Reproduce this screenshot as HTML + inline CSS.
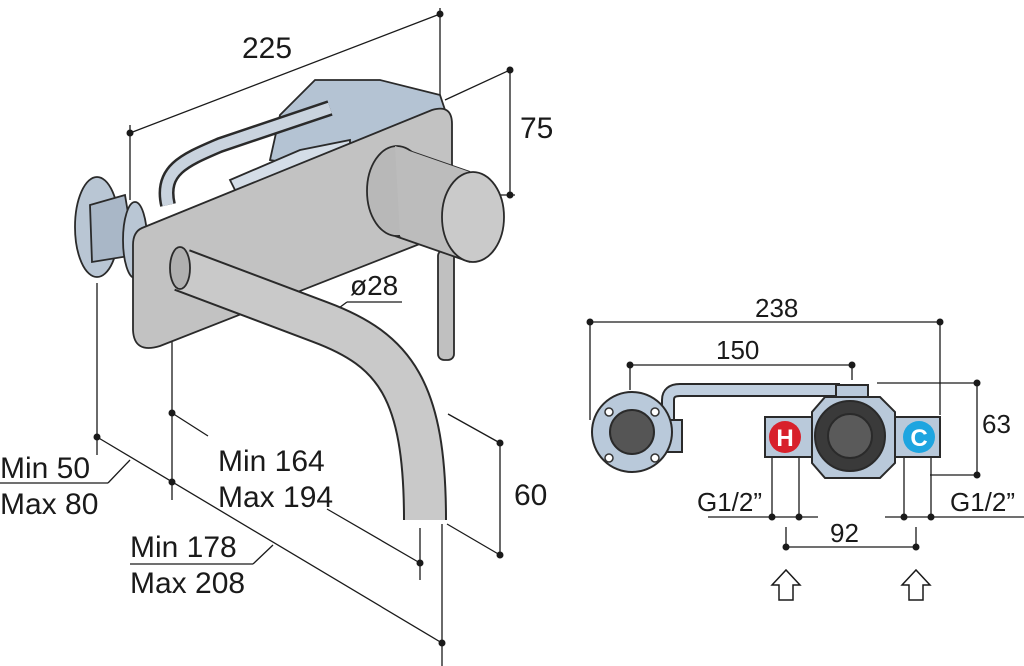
<!DOCTYPE html><html><head><style>body{margin:0;background:#fff}svg{display:block}text{font-family:"Liberation Sans",sans-serif;fill:#1a1a1a}</style></head><body>
<svg width="1024" height="666" viewBox="0 0 1024 666" xmlns="http://www.w3.org/2000/svg">
<g stroke="#1a1a1a" stroke-width="1.3" fill="none">
<line x1="130" y1="133" x2="440" y2="14"/><line x1="130" y1="125" x2="130" y2="200"/><line x1="440" y1="8" x2="440" y2="95"/>
<line x1="445" y1="100" x2="510" y2="70"/><line x1="510" y1="70" x2="510" y2="195"/><line x1="470" y1="195" x2="515" y2="195"/>
<line x1="320" y1="322" x2="347" y2="302"/><line x1="347" y1="302" x2="402" y2="302"/>
<line x1="97" y1="283" x2="97" y2="455"/><line x1="172" y1="340" x2="172" y2="500"/>
<line x1="97" y1="437" x2="442" y2="643"/><line x1="172" y1="413" x2="208" y2="436"/>
<line x1="327" y1="509" x2="420" y2="563"/><line x1="420" y1="528" x2="420" y2="580"/><line x1="442" y1="524" x2="442" y2="666"/>
<line x1="0" y1="483" x2="108" y2="483"/><line x1="108" y1="483" x2="130" y2="460"/>
<line x1="130" y1="564" x2="253" y2="564"/><line x1="253" y1="564" x2="273" y2="545"/>
<line x1="448" y1="414" x2="500" y2="443"/><line x1="500" y1="443" x2="500" y2="555"/><line x1="447" y1="524" x2="500" y2="555"/>
<line x1="590" y1="322" x2="940" y2="322"/><line x1="590" y1="322" x2="590" y2="420"/><line x1="940" y1="322" x2="940" y2="415"/>
<line x1="630" y1="365" x2="852" y2="365"/><line x1="630" y1="365" x2="630" y2="390"/><line x1="852" y1="365" x2="852" y2="380"/>
<line x1="877" y1="383" x2="980" y2="383"/><line x1="977" y1="383" x2="977" y2="475"/><line x1="930" y1="475" x2="980" y2="475"/>
<line x1="772" y1="457" x2="772" y2="517"/><line x1="799" y1="457" x2="799" y2="517"/><line x1="904" y1="457" x2="904" y2="517"/><line x1="931" y1="457" x2="931" y2="517"/>
<line x1="708" y1="517" x2="818" y2="517"/><line x1="885" y1="517" x2="1024" y2="517"/>
<line x1="786" y1="527" x2="786" y2="547"/><line x1="916" y1="527" x2="916" y2="547"/>
</g>
<g fill="#1a1a1a">
<circle cx="130" cy="133" r="3.5"/><circle cx="440" cy="14" r="3.5"/><circle cx="510" cy="70" r="3.5"/><circle cx="510" cy="195" r="3.5"/>
<circle cx="320" cy="322" r="3.5"/><circle cx="97" cy="437" r="3.5"/><circle cx="172" cy="413" r="3.5"/><circle cx="172" cy="482" r="3.5"/>
<circle cx="420" cy="563" r="3.5"/><circle cx="442" cy="643" r="3.5"/><circle cx="500" cy="443" r="3.5"/><circle cx="500" cy="555" r="3.5"/>
<circle cx="590" cy="322" r="3.5"/><circle cx="940" cy="322" r="3.5"/><circle cx="630" cy="365" r="3.5"/><circle cx="852" cy="365" r="3.5"/>
<circle cx="977" cy="383" r="3.5"/><circle cx="977" cy="475" r="3.5"/>
<circle cx="772" cy="517" r="3.5"/><circle cx="799" cy="517" r="3.5"/><circle cx="904" cy="517" r="3.5"/><circle cx="931" cy="517" r="3.5"/>
<circle cx="786" cy="547" r="3.5"/><circle cx="916" cy="547" r="3.5"/>
</g>
<line x1="786" y1="547" x2="916" y2="547" stroke="#1a1a1a" stroke-width="1.3"/>
<!-- faucet back parts -->
<g stroke="#2a2a2a" stroke-width="1.8">
<polygon points="280,115 315,80 380,80 440,95 445,110 300,165 270,160" fill="#b4c3d3"/>
<polygon points="230,180 300,150 350,140 350,180 240,200" fill="#d4dde7"/>
<path d="M168,205 C160,170 185,160 220,145 L330,108" fill="none" stroke="#2a2a2a" stroke-width="16"/>
<path d="M168,205 C160,170 185,160 220,145 L330,108" fill="none" stroke="#c9d3de" stroke-width="11"/>
<ellipse cx="97" cy="227" rx="22" ry="50" fill="#b9c6d4"/>
<polygon points="90,205 125,195 135,255 92,262" fill="#a9b7c7"/>
<ellipse cx="135" cy="240" rx="12" ry="38" fill="#b9c6d4"/>
<!-- plate -->
<path d="M142,228 L432,110 Q452,104 452,124 L452,222 Q452,232 440,236 L160,346 Q134,354 133,330 L133,245 Q133,232 142,228 Z" fill="#c2c2c2"/>
<!-- spout -->
<path d="M182,270 L320,322 C395,350 425,390 425,520" fill="none" stroke="#2a2a2a" stroke-width="44" stroke-linecap="butt"/>
<path d="M182,270 L320,322 C395,350 425,390 425,520" fill="none" stroke="#c9c9c9" stroke-width="40"/>
<ellipse cx="180" cy="268" rx="10" ry="21" fill="#b0b0b0"/>
<!-- lever and knob -->
<rect x="438" y="250" width="16" height="110" rx="6" fill="#c0c0c0"/>
<path d="M395,146 L470,172 L473,262 L395,236 Z" fill="#b8b8b8" stroke="none"/>
<line x1="395" y1="146" x2="470" y2="172"/><line x1="395" y1="236" x2="470" y2="262"/>
<ellipse cx="397" cy="191" rx="30" ry="45" fill="#b8b8b8"/>
<path d="M395,146 L470,172 L473,262 L400,236 Z" fill="#bcbcbc" stroke="none"/>
<ellipse cx="473" cy="217" rx="31" ry="45" fill="#cacaca"/>
</g>
<!-- right diagram -->
<g stroke="#2a2a2a" stroke-width="2">
<path d="M668,420 L668,400 Q668,390 680,390 L840,390" fill="none" stroke="#2a2a2a" stroke-width="14"/>
<path d="M668,420 L668,400 Q668,390 680,390 L840,390" fill="none" stroke="#c0cfdf" stroke-width="10"/>
<rect x="836" y="385" width="32" height="16" fill="#b9c9da"/>
<rect x="660" y="420" width="22" height="32" fill="#b9c9da"/>
<circle cx="632" cy="432" r="40" fill="#b9c9da"/>
<circle cx="632" cy="432" r="22" fill="#555"/>
<rect x="765" y="417" width="70" height="40" fill="#b9c9da"/>
<rect x="895" y="417" width="45" height="40" fill="#b9c9da"/>
<polygon points="825,397 880,397 895,412 895,463 880,478 825,478 812,463 812,412" fill="#b9c9da"/>
<circle cx="850" cy="436" r="35" fill="#3a3a3a"/>
<circle cx="850" cy="436" r="22" fill="#5a5a5a"/>
</g>
<g fill="#fff" stroke="#333" stroke-width="1.5">
<circle cx="609" cy="412" r="4"/><circle cx="655" cy="412" r="4"/><circle cx="609" cy="458" r="4"/><circle cx="655" cy="458" r="4"/>
</g>
<circle cx="785" cy="437" r="16" fill="#d8212b"/><text x="785" y="446" font-size="24" font-weight="bold" text-anchor="middle" style="fill:#fff">H</text>
<circle cx="919" cy="437" r="16" fill="#1ea5e0"/><text x="919" y="446" font-size="24" font-weight="bold" text-anchor="middle" style="fill:#fff">C</text>
<g fill="#fff" stroke="#1a1a1a" stroke-width="1.5">
<polygon points="779,600 779,585 772,585 786,570 800,585 793,585 793,600"/>
<polygon points="909,600 909,585 902,585 916,570 930,585 923,585 923,600"/>
</g>
<g font-size="30">
<text x="242" y="58">225</text><text x="520" y="138">75</text><text x="350" y="295" font-size="28">ø28</text>
<text x="0" y="478">Min 50</text><text x="0" y="514">Max 80</text>
<text x="218" y="471">Min 164</text><text x="218" y="507">Max 194</text>
<text x="130" y="557">Min 178</text><text x="130" y="593">Max 208</text>
<text x="514" y="505">60</text>
</g>
<g font-size="26">
<text x="755" y="317">238</text><text x="716" y="359">150</text><text x="982" y="433">63</text>
<text x="830" y="542">92</text><text x="697" y="511">G1/2”</text><text x="950" y="511">G1/2”</text>
</g>
</svg></body></html>
